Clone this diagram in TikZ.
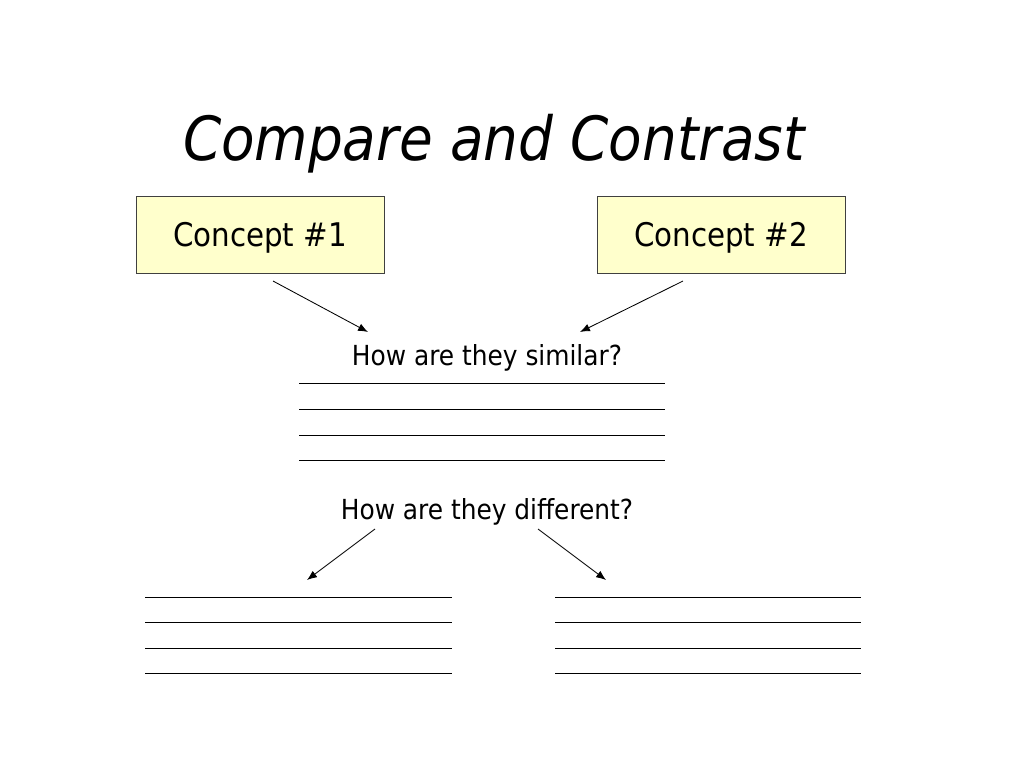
\documentclass[tikz,border=0pt]{standalone}
\usepackage{fontspec}
\setmainfont{DejaVu Sans Condensed}
\usetikzlibrary{positioning, arrows.meta}

\definecolor{conceptfill}{RGB}{255,255,204}
\tikzset{
    concept/.style={draw=black!75, fill=conceptfill, minimum width=175pt, minimum height=54.3pt, inner sep=0pt, text depth=0pt, font=\fontsize{23}{27}\selectfont},
    question/.style={font=\fontsize{19.5}{23}\selectfont},
    pointer/.style={-{Latex[length=7pt,width=5.5pt]}, line width=0.6pt},
    answerline/.style={line width=0.6pt}
}

\begin{document}
\begin{tikzpicture}[x=0.7058pt,y=-0.7058pt]  % one unit is one pixel of the slide
    \useasboundingbox (0,0) rectangle (1024,768);  % fixes the slide margins
    \node (title) at (494,144) {\fontsize{43}{50}\selectfont\itshape Compare and Contrast};  % Draws the title
    \node[concept] (concept1) at (260,234.5) {Concept \#1};  % Draws the first concept box
    \node[concept] (concept2) at (721,234.5) {Concept \#2};  % Draws the second concept box
    \node[question] (similar) at (487,358) {How are they similar?};  % Draws the first question
    \node[question] (different) at (487,512) {How are they different?};  % Draws the second question
    \coordinate (c1start) at (273,281);  % start of the first arrow
    \coordinate (c1end) at (368,332);
    \coordinate (c2start) at (683,281);  % start of the second arrow
    \coordinate (c2end) at (580,332);
    \coordinate (d1start) at (375,529);  % start of the left arrow
    \coordinate (d1end) at (307,580);
    \coordinate (d2start) at (538,529);  % start of the right arrow
    \coordinate (d2end) at (606,580);
    \draw[pointer] (c1start) -- (c1end);  % Draws arrow from concept 1
    \draw[pointer] (c2start) -- (c2end);  % Draws arrow from concept 2
    \draw[pointer] (d1start) -- (d1end);  % Draws arrow to the left lines
    \draw[pointer] (d2start) -- (d2end);  % Draws arrow to the right lines
    \foreach \y in {383,409,435,460}
        \draw[answerline] (299,\y) -- (665,\y);  % Draws the lines for similarities
    \foreach \y in {597,622,648,673} {
        \draw[answerline] (145,\y) -- (452,\y);  % Draws the lines for concept 1
        \draw[answerline] (555,\y) -- (861,\y);  % Draws the lines for concept 2
    }
\end{tikzpicture}
\end{document}
